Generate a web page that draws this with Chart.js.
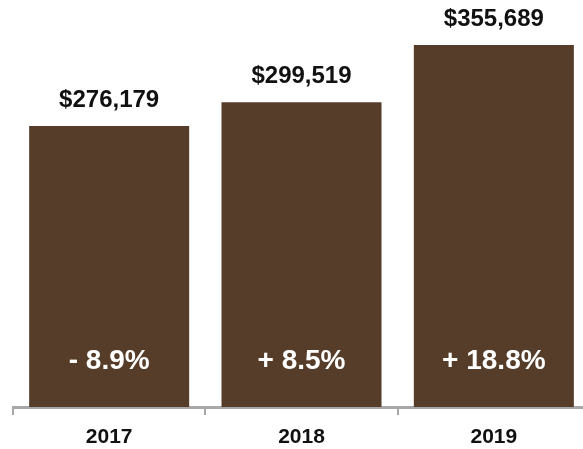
<!DOCTYPE html>
<html>
<head>
<meta charset="utf-8">
<script src="https://cdn.jsdelivr.net/npm/chart.js@4"></script>
<style>
  html, body { margin: 0; padding: 0; background: #fff; overflow: hidden; }
  #wrap { width: 590px; height: 449px; }
</style>
</head>
<body>
<div id="wrap"><canvas id="revenue-chart" width="590" height="449"></canvas></div>
<script>
const years = ['2017', '2018', '2019'];
const revenue = [276179, 299519, 355689];
const changeLabels = ['- 8.9%', '+ 8.5%', '+ 18.8%'];

const barColor = '#563D2A';
const axisGray = '#A8A8A8';
const fontFamily = '"Liberation Sans", Arial, Helvetica, sans-serif';

// value on top of each bar, year-over-year change near the bottom
const barLabels = {
    id: 'barLabels',
    afterDatasetsDraw(chart) {
        const c = chart.ctx;
        const meta = chart.getDatasetMeta(0);
        const bottom = chart.chartArea.bottom;
        c.save();
        c.textAlign = 'center';
        c.textBaseline = 'middle';
        meta.data.forEach(function(bar, i) {
            c.fillStyle = '#111';
            c.font = 'bold 24px ' + fontFamily;
            c.fillText('$' + revenue[i].toLocaleString('en-US'), bar.x, bar.y - 26);

            c.fillStyle = '#fff';
            c.font = 'bold 28px ' + fontFamily;
            c.fillText(changeLabels[i], bar.x, bottom - 46);
        });
        c.restore();
    }
};

new Chart(document.getElementById('revenue-chart'), {
    type: 'bar',
    data: {
        labels: years,
        datasets: [{
            data: revenue,
            backgroundColor: barColor,
            categoryPercentage: 1,
            barPercentage: 0.832
        }]
    },
    options: {
        responsive: false,
        animation: false,
        layout: { padding: { left: 13, top: 0, right: 0, bottom: 0 } },
        plugins: {
            legend: { display: false },
            tooltip: { enabled: false }
        },
        scales: {
            x: {
                afterFit(scale) { scale.height = 42; },
                grid: {
                    drawOnChartArea: false,
                    color: axisGray,
                    lineWidth: 2,
                    tickLength: 8
                },
                border: { color: axisGray, width: 3 },
                ticks: {
                    color: '#111',
                    font: { family: fontFamily, size: 21, weight: 'bold' },
                    padding: 10
                }
            },
            y: {
                display: false,
                min: 0,
                max: 400000
            }
        }
    },
    plugins: [barLabels]
});
</script>
</body>
</html>
